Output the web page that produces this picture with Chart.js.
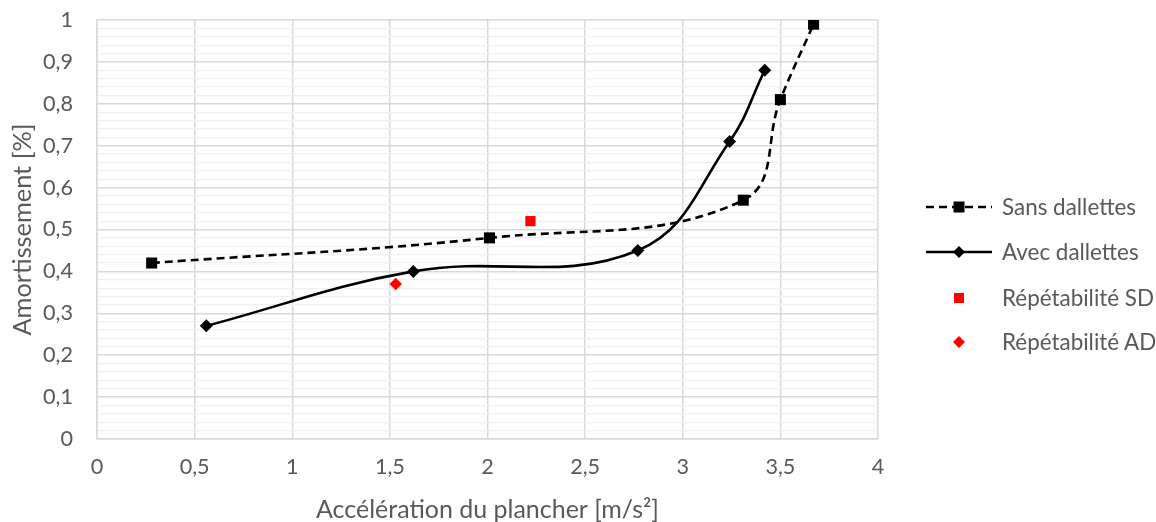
<!DOCTYPE html>
<html>
<head>
<meta charset="utf-8">
<script src="https://cdn.jsdelivr.net/npm/chart.js@4.4.1/dist/chart.umd.min.js"></script>
<style>
  html, body { margin: 0; padding: 0; background: #fff; }
  #wrap { position: relative; width: 1156px; height: 522px; overflow: hidden; }
  #c { position: absolute; left: 0; top: 0; }
  .leg { position: absolute; left: 926px; top: 0; font-family: Lato, "Liberation Sans", sans-serif; color: #595959; }
  .row { position: absolute; left: 0; height: 30px; width: 240px; }
  .row svg { position: absolute; left: 0; top: 0; }
  .row span { position: absolute; left: 76px; top: 15px; transform: translateY(-50%); white-space: nowrap; line-height: 1; }
</style>
</head>
<body>
<div id="wrap">
  <canvas id="c" width="1156" height="522"></canvas>
  <div class="leg" id="leg">
    <div class="row" style="top:192px"><svg width="70" height="30"><line x1="0" y1="15" x2="66" y2="15" stroke="#000" stroke-width="2.5" stroke-dasharray="8,5"/><rect x="27.5" y="9.5" width="11" height="11" fill="#000"/></svg><span id="l0"></span></div>
    <div class="row" style="top:237px"><svg width="70" height="30"><line x1="0" y1="15" x2="66" y2="15" stroke="#000" stroke-width="2.5"/><polygon points="27,15 33,9 39,15 33,21" fill="#000"/></svg><span id="l1"></span></div>
    <div class="row" style="top:283px"><svg width="70" height="30"><rect x="28" y="10" width="10" height="10" fill="#ff0000"/></svg><span id="l2"></span></div>
    <div class="row" style="top:327px"><svg width="70" height="30"><polygon points="27,15 33,9 39,15 33,21" fill="#ff0000"/></svg><span id="l3"></span></div>
  </div>
</div>
<script>
// ---- data ----
const seriesNames = ["Sans dallettes", "Avec dallettes", "Répétabilité SD", "Répétabilité AD"];
const sansX = [0.28, 2.01, 3.31, 3.50, 3.67];
const sansY = [0.42, 0.48, 0.57, 0.81, 0.99];
const avecX = [0.56, 1.62, 2.77, 3.24, 3.42];
const avecY = [0.27, 0.40, 0.45, 0.71, 0.88];
const repSDX = [2.22];
const repSDY = [0.52];
const repADX = [1.53];
const repADY = [0.37];
const xTitle = "Accélération du plancher [m/s²]";
const yTitle = "Amortissement [%]";

const pts = (xs, ys) => xs.map((x, i) => ({ x: x, y: ys[i] }));
seriesNames.forEach((n, i) => document.getElementById('l' + i).textContent = n);

const FONT = 'Lato, "Liberation Sans", sans-serif';
const TXT = '#595959';

// pick font sizes so text widths match the reference
const mctx = document.createElement('canvas').getContext('2d');
function fitSize(text, targetW) {
  mctx.font = '100px ' + FONT;
  return 100 * targetW / mctx.measureText(text).width;
}
const tickSize = fitSize('0,5', 30);
const xTitleSize = fitSize(xTitle, 343);
const yTitleSize = fitSize(yTitle, 212);
const legSize = fitSize(seriesNames[0], 134);
document.getElementById('leg').style.fontSize = legSize.toFixed(2) + 'px';

const fmt = v => {
  if (Math.abs(v * 10 - Math.round(v * 10)) > 1e-6) return '';
  return String(Math.round(v * 10) / 10).replace('.', ',');
};

// target plot area (layout only)
const AREA_TOP = 20, AREA_BOTTOM = 439;
let xAxisHeight = 522 - AREA_BOTTOM;

const chart = new Chart(document.getElementById('c'), {
  type: 'scatter',
  data: {
    datasets: [
      { label: seriesNames[0], data: pts(sansX, sansY), showLine: true, borderColor: '#000', borderWidth: 2.6,
        borderDash: [8, 5], tension: 0.4, pointStyle: 'rect', pointRadius: 7.8, pointBackgroundColor: '#000',
        pointBorderColor: '#000', pointBorderWidth: 0, order: 2 },
      { label: seriesNames[1], data: pts(avecX, avecY), showLine: true, borderColor: '#000', borderWidth: 2.6,
        tension: 0.4, pointStyle: 'rectRot', pointRadius: 6.5, pointBackgroundColor: '#000',
        pointBorderColor: '#000', pointBorderWidth: 0, order: 1 },
      { label: seriesNames[2], data: pts(repSDX, repSDY), showLine: false, pointStyle: 'rect', pointRadius: 7.2,
        pointBackgroundColor: '#ff0000', pointBorderColor: '#ff0000', pointBorderWidth: 0 },
      { label: seriesNames[3], data: pts(repADX, repADY), showLine: false, pointStyle: 'rectRot', pointRadius: 6.2,
        pointBackgroundColor: '#ff0000', pointBorderColor: '#ff0000', pointBorderWidth: 0 }
    ]
  },
  options: {
    responsive: false,
    animation: false,
    layout: { padding: { top: AREA_TOP, right: 278, left: 0, bottom: 0 } },
    plugins: { legend: { display: false }, tooltip: { enabled: false } },
    scales: {
      x: {
        type: 'linear', min: 0, max: 4,
        ticks: { stepSize: 0.5, padding: 28 - tickSize * 0.6, color: TXT, font: { family: FONT, size: tickSize },
          callback: v => String(v).replace('.', ','), maxRotation: 0, autoSkip: false },
        grid: { color: '#d9d9d9', lineWidth: 1.5, drawTicks: false },
        border: { color: '#d9d9d9', width: 1.5 },
        title: { display: true, text: xTitle, color: TXT, font: { family: FONT, size: xTitleSize, lineHeight: 1 },
          padding: { top: 0, bottom: Math.max(0, 12 - xTitleSize / 2) } },
        afterFit: s => { s.height = xAxisHeight; s.paddingLeft = 0; s.paddingRight = 0; }
      },
      y: {
        type: 'linear', min: 0, max: 1,
        ticks: { stepSize: 0.02, padding: 24, color: TXT, font: { family: FONT, size: tickSize },
          callback: v => fmt(v), autoSkip: false },
        grid: { drawTicks: false,
          color: c => (fmt(c.tick.value) !== '' ? '#d9d9d9' : '#f0f0f0'),
          lineWidth: c => (fmt(c.tick.value) !== '' ? 1.5 : 1.2) },
        border: { color: '#d9d9d9', width: 1.5 },
        title: { display: true, text: yTitle, color: TXT, font: { family: FONT, size: yTitleSize, lineHeight: 1 },
          padding: { top: Math.max(0, 23 - yTitleSize / 2), bottom: 0 } },
        afterFit: s => { s.width = 97; s.paddingTop = 0; s.paddingBottom = 0; }
      }
    }
  }
});
</script>
</body>
</html>
